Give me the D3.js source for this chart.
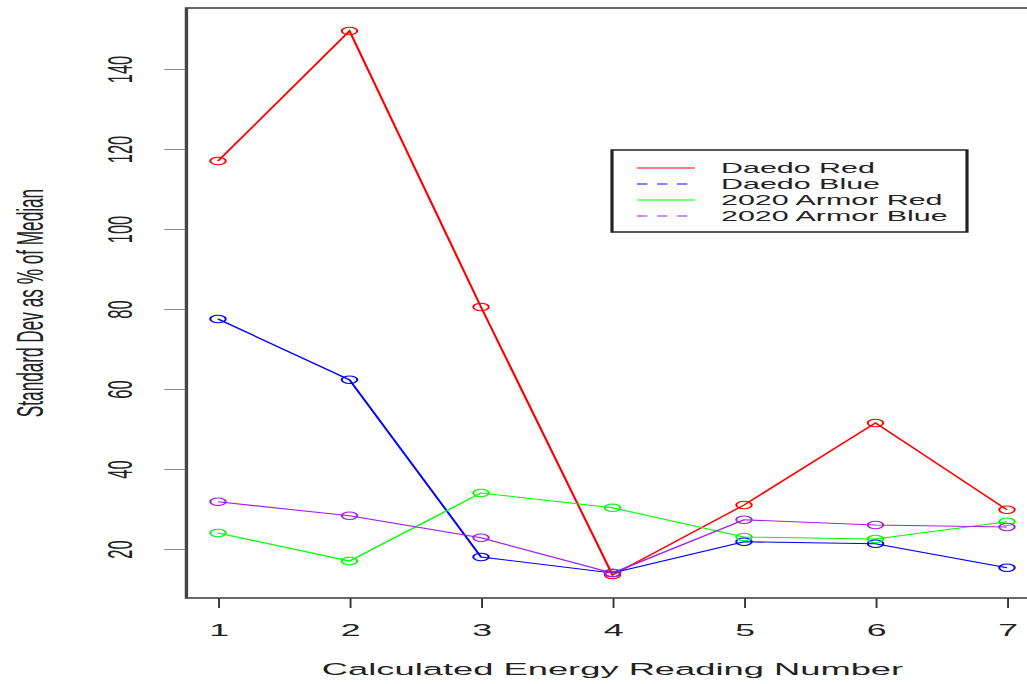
<!DOCTYPE html>
<html>
<head>
<meta charset="utf-8">
<script src="https://cdn.jsdelivr.net/npm/d3@7"></script>
<style>
    body { margin: 0; background: #fff; }
    #chart { width: 1027px; height: 684px; }
    text { font-family: "Liberation Sans", Arial, sans-serif; fill: #222; }
</style>
</head>
<body>
<div id="chart"></div>
<script>
// data
let readings = [1, 2, 3, 4, 5, 6, 7];
let daedoRed = [117, 149.5, 80.5, 13.5, 31, 51.5, 29.8];
let daedoBlue = [77.5, 62.3, 18, 14, 21.8, 21.3, 15.3];
let armorRed = [24, 17, 34, 30.3, 23, 22.5, 26.8];
let armorBlue = [31.8, 28.3, 22.8, 14, 27.3, 26, 25.5];
let seriesNames = ["Daedo Red", "Daedo Blue", "2020 Armor Red", "2020 Armor Blue"];
let seriesColors = ["#ff0000", "#0000ff", "#00ff00", "#a020f0"];
let legendDash = ["none", "5,4.5", "none", "5,4.5"];
let yTicks = [20, 40, 60, 80, 100, 120, 140];

class stretched_line_plot {

    constructor(parentElement, series){
        this.parentElement = parentElement;
        this.series = series;
        this.initVis()
    }

    initVis(){
        let vis = this;

        // the picture is an R plot stretched sideways, so draw in a narrow box and stretch it
        vis.stretch = 2.1;
        vis.width = 1027;
        vis.height = 684;
        vis.innerW = vis.width / vis.stretch;

        vis.svg = d3.select("#" + vis.parentElement).append("svg")
            .attr("width", vis.width)
            .attr("height", vis.height)
            .attr("viewBox", `0 0 ${vis.innerW} ${vis.height}`)
            .attr("preserveAspectRatio", "none");

        vis.xScale = d3.scaleLinear()
            .domain([1, 7])
            .range([218 / vis.stretch, 1007 / vis.stretch]);
        vis.yScale = d3.scaleLinear()
            .domain([20, 140])
            .range([549, 69]);

        vis.boxLeft = vis.xScale(0.76);
        vis.boxRight = vis.xScale(7.24);
        vis.boxTop = 8;
        vis.boxBottom = 598;

        // y axis, labels turned along the axis
        vis.yAxis = d3.axisLeft(vis.yScale)
            .tickValues(yTicks)
            .tickSize(10.5)
            .tickFormat(d3.format("d"));
        let yg = vis.svg.append("g")
            .attr("class", "y-axis axis")
            .attr("transform", `translate(${vis.boxLeft},0)`)
            .call(vis.yAxis);
        yg.select(".domain").remove();
        yg.selectAll("line").attr("stroke", "#333").attr("stroke-width", 0.6);
        yg.selectAll("text")
            .attr("x", 0)
            .attr("dy", 0)
            .attr("transform", "translate(-25.7,0) rotate(-90)")
            .attr("text-anchor", "middle")
            .style("font-size", "16.5px")
            .style("fill", "#222");

        // x axis
        vis.xAxis = d3.axisBottom(vis.xScale)
            .tickValues(readings)
            .tickSize(10)
            .tickFormat(d3.format("d"));
        let xg = vis.svg.append("g")
            .attr("class", "x-axis axis")
            .attr("transform", `translate(0,${vis.boxBottom})`)
            .call(vis.xAxis);
        xg.select(".domain").remove();
        xg.selectAll("line").attr("stroke", "#333").attr("stroke-width", 0.9);
        xg.selectAll("text")
            .attr("y", 38)
            .attr("dy", 0)
            .style("font-size", "17px")
            .style("fill", "#222");

        // axis titles
        vis.svg.append("text")
            .text("Calculated Energy Reading Number")
            .attr("x", (vis.boxLeft + vis.boxRight) / 2)
            .attr("y", 675)
            .attr("text-anchor", "middle")
            .style("font-size", "17.3px");
        vis.svg.append("text")
            .text("Standard Dev as % of Median")
            .attr("transform", `translate(20.5, ${(vis.boxTop + vis.boxBottom) / 2}) rotate(-90)`)
            .attr("text-anchor", "middle")
            .style("font-size", "17.2px");

        vis.lines_group = vis.svg.append("g").attr("class", "lines");
        vis.points_group = vis.svg.append("g").attr("class", "points");

        // plot box
        vis.svg.append("rect")
            .attr("x", vis.boxLeft)
            .attr("y", vis.boxTop)
            .attr("width", vis.boxRight - vis.boxLeft)
            .attr("height", vis.boxBottom - vis.boxTop)
            .attr("fill", "none")
            .attr("stroke", "#444")
            .attr("stroke-width", 1.6);

        this.updateVis();
        this.drawLegend();
    }

    updateVis(){
        let vis = this;

        let line = d3.line()
            .x(function(d) { return vis.xScale(d.x); })
            .y(function(d) { return vis.yScale(d.y); });

        vis.series.forEach(function(s) {
            let pts = readings.map(function(r, i) { return {x: r, y: s.values[i]}; });

            vis.lines_group.append("path")
                .datum(pts)
                .attr("d", line)
                .attr("fill", "none")
                .attr("stroke", s.color)
                .attr("stroke-width", 1.1);

            vis.points_group.selectAll(".pt-" + s.key)
                .data(pts)
                .enter().append("circle")
                .attr("class", "pt-" + s.key)
                .attr("cx", function(d) { return vis.xScale(d.x); })
                .attr("cy", function(d) { return vis.yScale(d.y); })
                .attr("r", 3.7)
                .attr("fill", "none")
                .attr("stroke", s.color)
                .attr("stroke-width", 1);
        })
    }

    drawLegend(){
        let vis = this;
        let s = vis.stretch;

        let lg = vis.svg.append("g").attr("class", "legend");
        lg.append("rect")
            .attr("x", 612 / s)
            .attr("y", 150)
            .attr("width", (967 - 612) / s)
            .attr("height", 82)
            .attr("fill", "#fff")
            .attr("stroke", "#222")
            .attr("stroke-width", 1.5);

        let rows = [168, 184, 200, 216];
        vis.series.forEach(function(d, i) {
            lg.append("path")
                .attr("d", `M${637 / s},${rows[i]}H${695 / s}`)
                .attr("fill", "none")
                .style("stroke", d.color)
                .style("stroke-width", 1.2)
                .style("stroke-dasharray", legendDash[i]);
            lg.append("text")
                .text(d.name)
                .attr("x", 721 / s)
                .attr("y", rows[i] + 5.2)
                .style("font-size", "14.5px");
        })
    }
}

let series = [daedoRed, daedoBlue, armorRed, armorBlue].map(function(v, i) {
    return {key: i, name: seriesNames[i], color: seriesColors[i], values: v};
});
let main_plot = new stretched_line_plot("chart", series);
</script>
</body>
</html>
